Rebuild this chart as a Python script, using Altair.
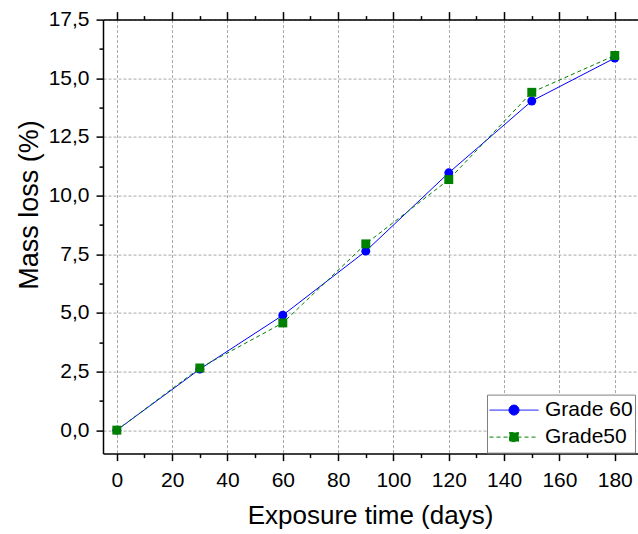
import altair as alt
import pandas as pd

FONT = "Liberation Sans"

days = [0, 30, 60, 90, 120, 150, 180]
grade60 = [0.0, 2.6, 4.9, 7.63, 10.97, 14.03, 15.86]
grade50 = [0.0, 2.65, 4.57, 7.94, 10.68, 14.4, 15.97]
series_names = ["Grade 60", "Grade50"]
series_colors = ["#0000ff", "#008000"]

x_major = list(range(0, 181, 20))
x_minor = list(range(10, 181, 20))
y_major = [0, 2.5, 5, 7.5, 10, 12.5, 15, 17.5]
y_minor = [1.25, 3.75, 6.25, 8.75, 11.25, 13.75, 16.25]

df = pd.DataFrame({
    "days": days * 2,
    "loss": grade60 + grade50,
    "series": [series_names[0]] * len(days) + [series_names[1]] * len(days),
})

xs = alt.Scale(domain=[-5, 188.4], nice=False, zero=False)
ys = alt.Scale(domain=[-1, 17.5], nice=False, zero=False)

label_expr = "replace(format(datum.value, '.1f'), '.', ',')"

main_x = alt.Axis(
    orient="bottom", values=x_major, tickSize=7, tickWidth=1.5, tickColor="black",
    domainColor="black", domainWidth=1.5, labelFontSize=21, labelFont=FONT,
    labelColor="black", labelPadding=9, labelFlush=False, labelOverlap=False,
    grid=True, gridColor="#a8a8a8", gridDash=[3, 2], gridWidth=1,
    title="Exposure time (days)", titleFont=FONT, titleFontSize=26,
    titleFontWeight="normal", titleColor="black", titleX=267, titleY=70,
    titleBaseline="alphabetic", titleAlign="center",
)
main_y = alt.Axis(
    orient="left", values=y_major, tickSize=7, tickWidth=1.5, tickColor="black",
    domainColor="black", domainWidth=1.5, labelFontSize=21, labelFont=FONT,
    labelColor="black", labelPadding=7, labelExpr=label_expr, labelOverlap=False,
    grid=True, gridColor="#a8a8a8", gridDash=[3, 2], gridWidth=1,
    title="Mass loss (%)", titleFont=FONT, titleFontSize=27,
    titleFontWeight="normal", titleColor="black", titleX=-66, titleY=185,
    titleBaseline="alphabetic", titleAlign="center", titleAngle=270,
)

def tick_axis(orient, values, size, domain=False):
    return alt.Axis(
        orient=orient, values=values, tickSize=size, tickWidth=1.5, tickColor="black",
        domain=domain, domainColor="black", domainWidth=1.5, labels=False,
        grid=False, title=None,
    )

base = alt.Chart(df)

def sel(name):
    return base.transform_filter(alt.datum.series == name)

line60 = sel(series_names[0]).mark_line(color=series_colors[0], strokeWidth=1).encode(
    x=alt.X("days:Q", scale=xs, axis=main_x),
    y=alt.Y("loss:Q", scale=ys, axis=main_y),
)
line50 = sel(series_names[1]).mark_line(color=series_colors[1], strokeWidth=1, strokeDash=[4, 3]).encode(
    x=alt.X("days:Q", scale=xs, axis=None),
    y=alt.Y("loss:Q", scale=ys, axis=None),
)
pts60 = sel(series_names[0]).mark_point(shape="circle", filled=True, size=80, opacity=1, color=series_colors[0]).encode(
    x=alt.X("days:Q", scale=xs, axis=None),
    y=alt.Y("loss:Q", scale=ys, axis=None),
)
pts50 = sel(series_names[1]).mark_point(shape="square", filled=True, size=80, opacity=1, color=series_colors[1]).encode(
    x=alt.X("days:Q", scale=xs, axis=None),
    y=alt.Y("loss:Q", scale=ys, axis=None),
)

# legend symbols: line with marker (unit path coordinates)
r = 0.204
k = 0.5523 * r
circle_path = (
    f"M-1,0L1,0M{r},0C{r},{k} {k},{r} 0,{r}C{-k},{r} {-r},{k} {-r},0"
    f"C{-r},{-k} {-k},{-r} 0,{-r}C{k},{-r} {r},{-k} {r},0Z"
)
s = 0.184
square_path = f"M-1,0L1,0M{-s},{-s}L{s},{-s}L{s},{s}L{-s},{s}Z"

legend = alt.Legend(
    orient="none", legendX=384, legendY=375, title=None, padding=2,
    strokeColor="#808080", fillColor="white", cornerRadius=0,
    symbolSize=2401, symbolStrokeWidth=1, symbolOpacity=1, labelFont=FONT, labelFontSize=21,
    labelColor="black", labelOffset=6, clipHeight=27, rowPadding=0,
    labelExpr="datum.label + '     '",
)
sdomain = series_names
carrier = base.transform_filter("false").mark_point(filled=True, size=2401, strokeWidth=1, opacity=1).encode(
    x=alt.X("days:Q", scale=xs, axis=None),
    y=alt.Y("loss:Q", scale=ys, axis=None),
    shape=alt.Shape("series:N", scale=alt.Scale(domain=sdomain, range=[circle_path, square_path]), legend=legend),
    fill=alt.Fill("series:N", scale=alt.Scale(domain=sdomain, range=series_colors), legend=legend),
    stroke=alt.Stroke("series:N", scale=alt.Scale(domain=sdomain, range=series_colors), legend=legend),
    strokeDash=alt.StrokeDash("series:N", scale=alt.Scale(domain=sdomain, range=[[1, 0], [4, 3]]), legend=legend),
)

empty = base.transform_filter("false").mark_point()
minor_bottom = empty.encode(x=alt.X("days:Q", scale=xs, axis=tick_axis("bottom", x_minor, 4)),
                            y=alt.Y("loss:Q", scale=ys, axis=None))
top_major = empty.encode(x=alt.X("days:Q", scale=xs, axis=tick_axis("top", x_major, 8, domain=True)),
                         y=alt.Y("loss:Q", scale=ys, axis=None))
top_minor = empty.encode(x=alt.X("days:Q", scale=xs, axis=tick_axis("top", x_minor, 4)),
                         y=alt.Y("loss:Q", scale=ys, axis=None))
left_minor = empty.encode(x=alt.X("days:Q", scale=xs, axis=None),
                          y=alt.Y("loss:Q", scale=ys, axis=tick_axis("left", y_minor, 4)))

chart = alt.layer(
    line60, line50, pts60, pts50, carrier, minor_bottom, top_major, top_minor, left_minor
).resolve_axis(x="independent", y="independent").properties(
    width=535, height=434,
    autosize=alt.AutoSizeParams(type="none"),
    padding={"left": 103, "top": 19.6, "right": 0, "bottom": 80.4},
).configure_view(stroke=None)

chart.save("out.html", embed_options={"renderer": "svg", "actions": False})
